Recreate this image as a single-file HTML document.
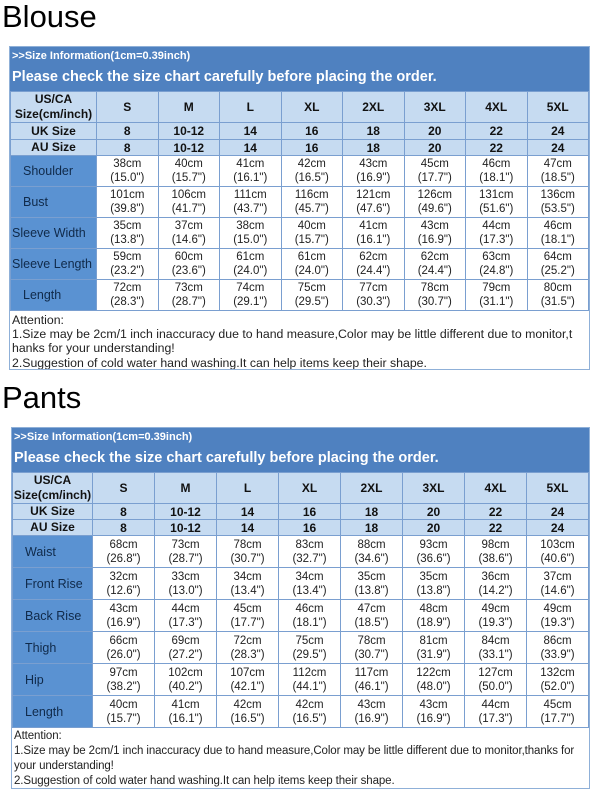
<!DOCTYPE html>
<html><head><meta charset="utf-8"><style>
body{margin:0;width:600px;height:800px;background:#fff;position:relative;overflow:hidden;font-family:"Liberation Sans",Arial,sans-serif;}
.title{position:absolute;left:2px;font-size:31px;color:#000;font-family:"Liberation Sans",sans-serif;}
.wrap{position:absolute;border:1px solid #8fb0d8;background:#fff;}
.hd{background:#4f81c0;color:#fff;font-weight:bold;}
.hd .a{font-size:11px;height:19px;line-height:19px;padding-left:2px;}
.hd .b{font-size:14.5px;height:25px;line-height:22px;padding-left:2px;}
table{border-collapse:collapse;table-layout:fixed;width:100%;}
td{border:1px solid #7a9fd0;text-align:center;padding:0;font-size:11.5px;color:#222;line-height:14px;overflow:hidden;}
tr.h td{background:#c6dbf1;font-weight:bold;color:#111;font-size:12px;}
td.l{background:#5a92d2;color:#102a4a;font-size:12.5px;text-align:left;padding-left:12px;}
tr.h td.l{background:#c6dbf1;text-align:center;padding-left:0;color:#111;line-height:15px;}
.att{font-size:11px;color:#222;line-height:14px;padding:1px 2px;white-space:nowrap;overflow:hidden;box-sizing:border-box;}
</style></head><body>

<div class="title" style="top:-1px">Blouse</div>
<div class="wrap" style="left:9px;top:46px;width:579px;">
<div class="hd"><div class="a">&gt;&gt;Size Information(1cm=0.39inch)</div><div class="b">Please check the size chart carefully before placing the order.</div></div>
<table>
<colgroup><col style="width:86px"><col><col><col><col><col><col><col><col></colgroup>
<tr class="h" style="height:31px"><td class="l">US/CA<br>Size(cm/inch)</td><td>S</td><td>M</td><td>L</td><td>XL</td><td>2XL</td><td>3XL</td><td>4XL</td><td>5XL</td></tr>
<tr class="h" style="height:17px"><td class="l">UK Size</td><td>8</td><td>10-12</td><td>14</td><td>16</td><td>18</td><td>20</td><td>22</td><td>24</td></tr>
<tr class="h" style="height:15px"><td class="l">AU Size</td><td>8</td><td>10-12</td><td>14</td><td>16</td><td>18</td><td>20</td><td>22</td><td>24</td></tr>
<tr style="height:31px"><td class="l">Shoulder</td><td>38cm<br>(15.0")</td><td>40cm<br>(15.7")</td><td>41cm<br>(16.1")</td><td>42cm<br>(16.5")</td><td>43cm<br>(16.9")</td><td>45cm<br>(17.7")</td><td>46cm<br>(18.1")</td><td>47cm<br>(18.5")</td></tr>
<tr style="height:31px"><td class="l">Bust</td><td>101cm<br>(39.8")</td><td>106cm<br>(41.7")</td><td>111cm<br>(43.7")</td><td>116cm<br>(45.7")</td><td>121cm<br>(47.6")</td><td>126cm<br>(49.6")</td><td>131cm<br>(51.6")</td><td>136cm<br>(53.5")</td></tr>
<tr style="height:31px"><td class="l" style="padding-left:1px">Sleeve Width</td><td>35cm<br>(13.8")</td><td>37cm<br>(14.6")</td><td>38cm<br>(15.0")</td><td>40cm<br>(15.7")</td><td>41cm<br>(16.1")</td><td>43cm<br>(16.9")</td><td>44cm<br>(17.3")</td><td>46cm<br>(18.1")</td></tr>
<tr style="height:31px"><td class="l" style="padding-left:1px">Sleeve Length</td><td>59cm<br>(23.2")</td><td>60cm<br>(23.6")</td><td>61cm<br>(24.0")</td><td>61cm<br>(24.0")</td><td>62cm<br>(24.4")</td><td>62cm<br>(24.4")</td><td>63cm<br>(24.8")</td><td>64cm<br>(25.2")</td></tr>
<tr style="height:31px"><td class="l">Length</td><td>72cm<br>(28.3")</td><td>73cm<br>(28.7")</td><td>74cm<br>(29.1")</td><td>75cm<br>(29.5")</td><td>77cm<br>(30.3")</td><td>78cm<br>(30.7")</td><td>79cm<br>(31.1")</td><td>80cm<br>(31.5")</td></tr>
</table>
<div class="att" style="height:58px;font-size:12.3px;line-height:14px;padding-top:2px">Attention:<br>1.Size may be 2cm/1 inch inaccuracy due to hand measure,Color may be little different due to monitor,t<br>hanks for your understanding!<br><span style="position:relative;top:1px">2.Suggestion of cold water hand washing.It can help items keep their shape.</span></div>
</div>

<div class="title" style="top:380px">Pants</div>
<div class="wrap" style="left:11px;top:427px;width:577px;">
<div class="hd"><div class="a">&gt;&gt;Size Information(1cm=0.39inch)</div><div class="b">Please check the size chart carefully before placing the order.</div></div>
<table>
<colgroup><col style="width:80px"><col><col><col><col><col><col><col><col></colgroup>
<tr class="h" style="height:31px"><td class="l">US/CA<br>Size(cm/inch)</td><td>S</td><td>M</td><td>L</td><td>XL</td><td>2XL</td><td>3XL</td><td>4XL</td><td>5XL</td></tr>
<tr class="h" style="height:16px"><td class="l">UK Size</td><td>8</td><td>10-12</td><td>14</td><td>16</td><td>18</td><td>20</td><td>22</td><td>24</td></tr>
<tr class="h" style="height:16px"><td class="l">AU Size</td><td>8</td><td>10-12</td><td>14</td><td>16</td><td>18</td><td>20</td><td>22</td><td>24</td></tr>
<tr style="height:32px"><td class="l">Waist</td><td>68cm<br>(26.8")</td><td>73cm<br>(28.7")</td><td>78cm<br>(30.7")</td><td>83cm<br>(32.7")</td><td>88cm<br>(34.6")</td><td>93cm<br>(36.6")</td><td>98cm<br>(38.6")</td><td>103cm<br>(40.6")</td></tr>
<tr style="height:32px"><td class="l">Front Rise</td><td>32cm<br>(12.6")</td><td>33cm<br>(13.0")</td><td>34cm<br>(13.4")</td><td>34cm<br>(13.4")</td><td>35cm<br>(13.8")</td><td>35cm<br>(13.8")</td><td>36cm<br>(14.2")</td><td>37cm<br>(14.6")</td></tr>
<tr style="height:32px"><td class="l">Back Rise</td><td>43cm<br>(16.9")</td><td>44cm<br>(17.3")</td><td>45cm<br>(17.7")</td><td>46cm<br>(18.1")</td><td>47cm<br>(18.5")</td><td>48cm<br>(18.9")</td><td>49cm<br>(19.3")</td><td>49cm<br>(19.3")</td></tr>
<tr style="height:32px"><td class="l">Thigh</td><td>66cm<br>(26.0")</td><td>69cm<br>(27.2")</td><td>72cm<br>(28.3")</td><td>75cm<br>(29.5")</td><td>78cm<br>(30.7")</td><td>81cm<br>(31.9")</td><td>84cm<br>(33.1")</td><td>86cm<br>(33.9")</td></tr>
<tr style="height:32px"><td class="l">Hip</td><td>97cm<br>(38.2")</td><td>102cm<br>(40.2")</td><td>107cm<br>(42.1")</td><td>112cm<br>(44.1")</td><td>117cm<br>(46.1")</td><td>122cm<br>(48.0")</td><td>127cm<br>(50.0")</td><td>132cm<br>(52.0")</td></tr>
<tr style="height:32px"><td class="l">Length</td><td>40cm<br>(15.7")</td><td>41cm<br>(16.1")</td><td>42cm<br>(16.5")</td><td>42cm<br>(16.5")</td><td>43cm<br>(16.9")</td><td>43cm<br>(16.9")</td><td>44cm<br>(17.3")</td><td>45cm<br>(17.7")</td></tr>
</table>
<div class="att" style="height:60px;font-size:11.5px;line-height:15px;letter-spacing:-0.1px">Attention:<br>1.Size may be 2cm/1 inch inaccuracy due to hand measure,Color may be little different due to monitor,thanks for<br>your understanding!<br>2.Suggestion of cold water hand washing.It can help items keep their shape.</div>
</div>
</body></html>
